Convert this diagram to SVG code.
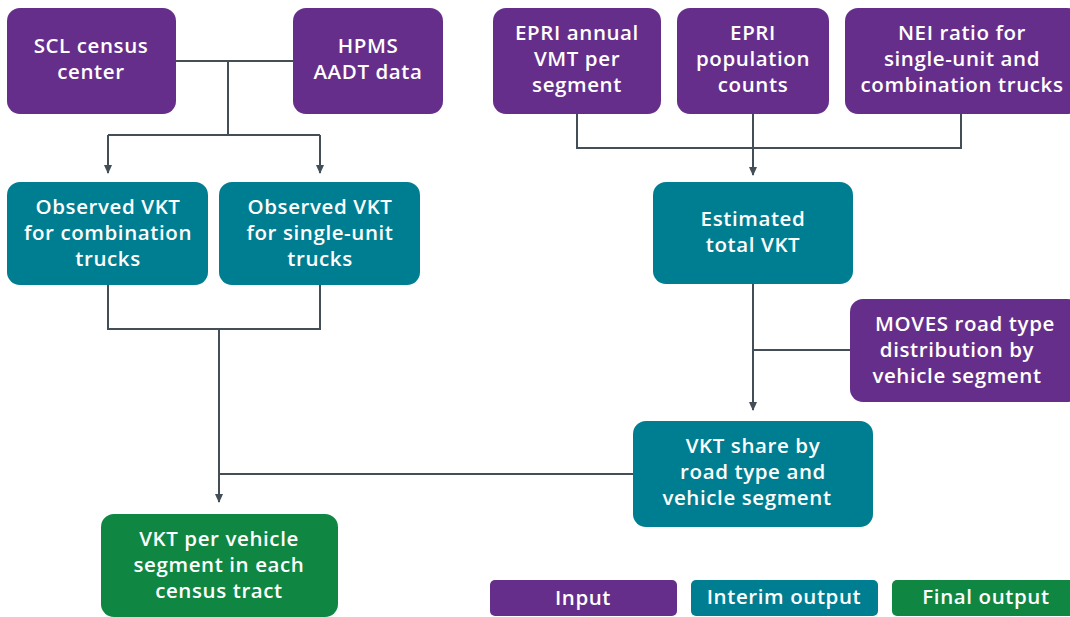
<svg xmlns="http://www.w3.org/2000/svg" width="1070" height="617" viewBox="0 0 1070 617">
<style>
.in{fill:#662e8b}
.mid{fill:#007e91}
.fin{fill:#0f8742}
text{font-family:"Open Sans","Liberation Sans",sans-serif;font-size:20.5px;font-weight:600;letter-spacing:0.6px;fill:#ffffff;text-anchor:middle}
.c{fill:none;stroke:#444e57;stroke-width:2}
.a{fill:none;stroke:#444e57;stroke-width:2;marker-end:url(#ah)}
</style>
<defs>
<marker id="ah" markerWidth="9" markerHeight="8" refX="8" refY="4" orient="auto" markerUnits="userSpaceOnUse" viewBox="0 0 9 8">
<path d="M0,0 L9,4 L0,8 Z" fill="#444e57"/>
</marker>
</defs>
<rect width="1070" height="617" fill="#ffffff"/>
<g id="connectors">
<path class="c" d="M176,61 H293 M228,61 V135 M108,135 H320"/>
<path class="a" d="M108,135 V173"/>
<path class="a" d="M320,135 V173"/>
<path class="c" d="M577,114 V148 H961 V114"/>
<path class="a" d="M753,108 V175"/>
<path class="c" d="M108,285 V329 H320 V285 M219,474 H633"/>
<path class="a" d="M219,329 V502"/>
<path class="c" d="M753,350 H850"/>
<path class="a" d="M753,284 V410"/>
</g>
<g id="scl"><rect class="in" x="7" y="8" width="169" height="106" rx="13"/><text x="91" y="53">SCL census</text><text x="91" y="79">center</text></g>
<g id="hpms"><rect class="in" x="293" y="8" width="150" height="106" rx="13"/><text x="368" y="53">HPMS</text><text x="368" y="79">AADT data</text></g>
<g id="epri-vmt"><rect class="in" x="493" y="8" width="168" height="106" rx="13"/><text x="577" y="40">EPRI annual</text><text x="577" y="66">VMT per</text><text x="577" y="92">segment</text></g>
<g id="epri-pop"><rect class="in" x="677" y="8" width="152" height="106" rx="13"/><text x="753" y="40">EPRI</text><text x="753" y="66">population</text><text x="753" y="92">counts</text></g>
<g id="nei"><rect class="in" x="845" y="8" width="235" height="106" rx="13"/><text x="962" y="40">NEI ratio for</text><text x="962" y="66">single-unit and</text><text x="962" y="92">combination trucks</text></g>
<g id="obs-comb"><rect class="mid" x="7" y="182" width="201" height="103" rx="13"/><text x="108" y="214">Observed VKT</text><text x="108" y="240">for combination</text><text x="108" y="266">trucks</text></g>
<g id="obs-single"><rect class="mid" x="219" y="182" width="201" height="103" rx="13"/><text x="320" y="214">Observed VKT</text><text x="320" y="240">for single-unit</text><text x="320" y="266">trucks</text></g>
<g id="est"><rect class="mid" x="653" y="182" width="200" height="102" rx="13"/><text x="753" y="226">Estimated</text><text x="753" y="252">total VKT</text></g>
<g id="moves"><rect class="in" x="850" y="299" width="230" height="103" rx="13"/><text x="965" y="331">MOVES road type</text><text x="957" y="357">distribution by</text><text x="957" y="383">vehicle segment</text></g>
<g id="share"><rect class="mid" x="633" y="421" width="240" height="106" rx="13"/><text x="753" y="453">VKT share by</text><text x="753" y="479">road type and</text><text x="747" y="505">vehicle segment</text></g>
<g id="final"><rect class="fin" x="101" y="514" width="237" height="103" rx="13"/><text x="219" y="546">VKT per vehicle</text><text x="219" y="572">segment in each</text><text x="219" y="598">census tract</text></g>
<g id="legend">
<rect class="in" x="490" y="580" width="187" height="36" rx="5"/><text x="583" y="605">Input</text>
<rect class="mid" x="691" y="580" width="187" height="36" rx="5"/><text x="784" y="604">Interim output</text>
<rect class="fin" x="892" y="580" width="188" height="36" rx="5"/><text x="986" y="604">Final output</text>
</g>
</svg>
